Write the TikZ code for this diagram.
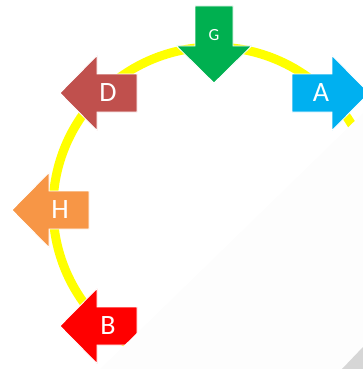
\documentclass[tikz,border=0pt]{standalone}
\usepackage{fontspec}
\setmainfont{Carlito}
\usetikzlibrary{positioning}
\definecolor{ringyellow}{RGB}{255,255,0}
\definecolor{gcol}{RGB}{0,176,80}
\definecolor{acol}{RGB}{0,176,240}
\definecolor{dcol}{RGB}{192,80,77}
\definecolor{hcol}{RGB}{247,150,70}
\definecolor{bcol}{RGB}{255,0,0}
\definecolor{sheetcol}{RGB}{253,253,253}
\definecolor{curlcol}{RGB}{214,214,214}
% tip x, tip y, rotation, colour, name, label
\newcommand{\blockarrow}[6]{%
  \begin{scope}[shift={(#1,#2)}, rotate=#3]
    \filldraw[arrowbody, fill=#4] (0,0) -- (37,37.5) -- (37,19) -- (77,19)
      -- (77,-19) -- (37,-19) -- (37,-37.5) -- cycle;
    \node[lbl] (#5) at (48,0) {#6};
  \end{scope}
}

\begin{document}
\begin{tikzpicture}[
    x=1pt, y=-1pt,
    ring/.style = {draw=ringyellow, line width=9pt},
    arrowbody/.style = {draw=white, line width=0.8pt, line join=miter},
    lbl/.style = {text=white, inner sep=0pt, font=\fontsize{28}{28}\selectfont}
    ]
  \useasboundingbox (0,0) rectangle (363,369);
  \clip (0,0) rectangle (363,369);

  \draw[ring] (214,208) circle[radius=161];

  \blockarrow{214}{83}{90}{gcol}{g}{\fontsize{17}{17}\selectfont G}
  \blockarrow{369}{93}{180}{acol}{a}{A}
  \blockarrow{60}{93}{0}{dcol}{d}{D}
  \blockarrow{12}{210}{0}{hcol}{h}{H}
  \blockarrow{60}{326}{0}{bcol}{b}{B}

  % sheet with curled corner
  \fill[sheetcol] (100,369) -- (363,113) -- (363,369) -- cycle;
  \fill[curlcol] (342,369) -- (363,347) -- (363,369) -- cycle;

\end{tikzpicture}
\end{document}
